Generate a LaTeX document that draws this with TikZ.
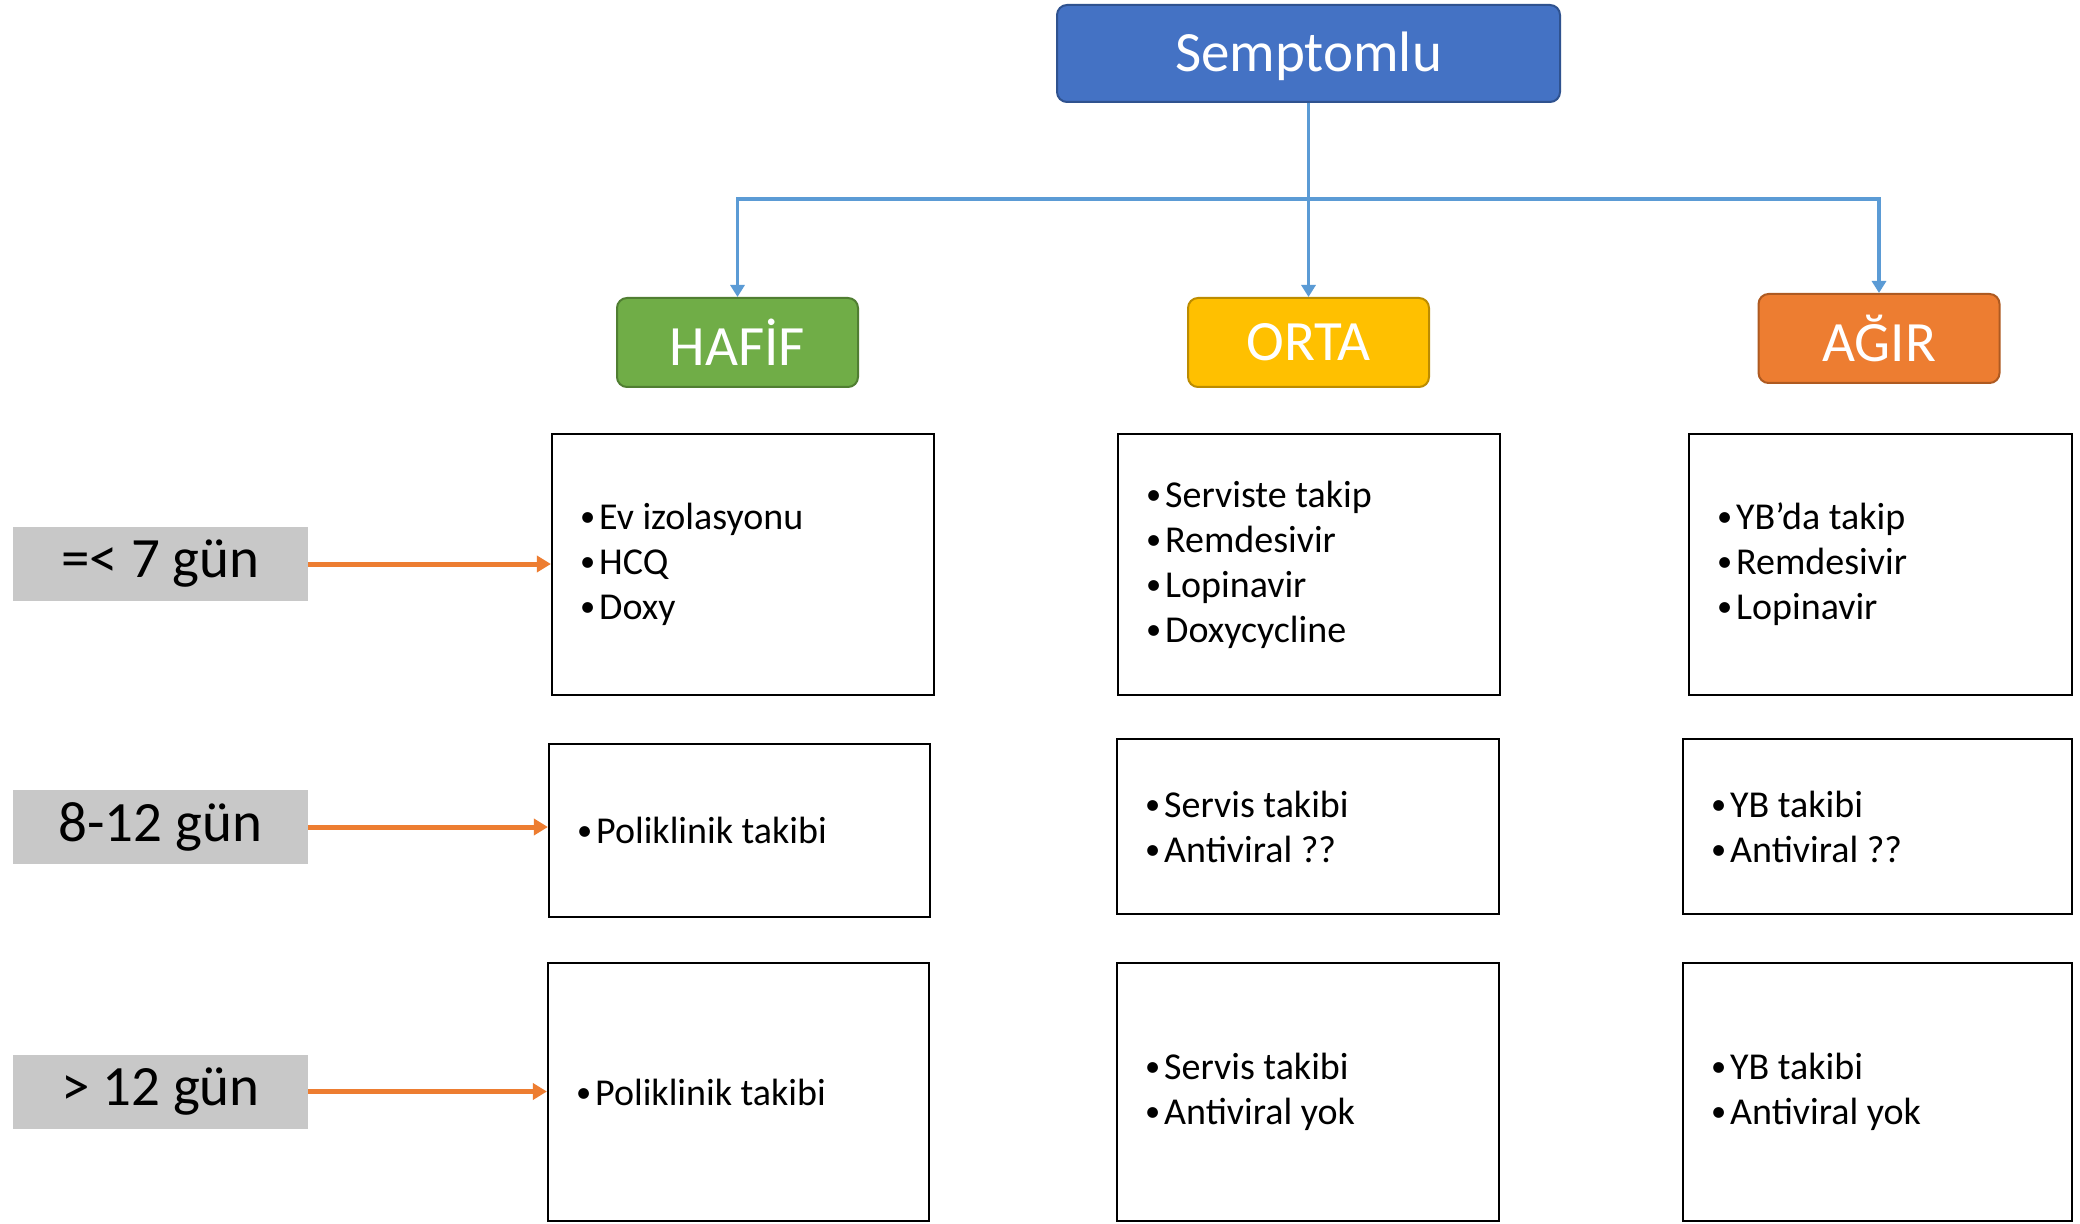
\documentclass[tikz,border=0pt]{standalone}
\usepackage{fontspec}
\setmainfont{Carlito}
\usetikzlibrary{arrows.meta}
\definecolor{sblue}{HTML}{4472C4}
\definecolor{sblueD}{HTML}{2F528F}
\definecolor{sgreen}{HTML}{70AD47}
\definecolor{sgreenD}{HTML}{507E32}
\definecolor{sgold}{HTML}{FFC000}
\definecolor{sgoldD}{HTML}{BC8C00}
\definecolor{sorange}{HTML}{ED7D31}
\definecolor{sorangeD}{HTML}{AE5A21}
\definecolor{lineblue}{HTML}{5B9BD5}
\definecolor{lblgray}{HTML}{C8C8C8}
\newcommand{\bul}{\raisebox{0.08em}{\scalebox{0.8}{\textbullet}}\hspace{2pt}}
\tikzset{
  hdr/.style={rounded corners=5pt, line width=1pt, text=white, font=\fontsize{28.5}{30}\selectfont, inner sep=0pt},
  infobox/.style={draw=black, line width=1.1pt, fill=white, align=flush left, inner xsep=14pt, inner ysep=0pt,
     font=\fontsize{19}{22.5}\selectfont},
  lbl/.style={fill=lblgray, minimum width=147.5pt, minimum height=37pt, inner sep=0pt,
     font=\fontsize{28.5}{30}\selectfont},
  bconn/.style={draw=lineblue, line width=1.8pt},
  btip/.style={bconn, -{Triangle[length=6pt,width=7pt]}},
  oconn/.style={draw=sorange, line width=2.5pt, -{Triangle[length=7pt,width=8pt]}}
}
\begin{document}
\begin{tikzpicture}[x=0.5pt,y=-0.5pt]
\useasboundingbox[fill=white] (0,0) rectangle (2080,1224);
% headers
\node[hdr, draw=sblueD, fill=sblue, minimum width=251.5pt, minimum height=48.5pt] (semp) at (1308.5,53.5) {\raisebox{-2pt}[20pt][6pt]{Semptomlu}};
\node[hdr, draw=sgreenD, fill=sgreen, minimum width=120.5pt, minimum height=44.5pt] (hafif) at (737.5,342.5) {HAFİF};
\node[hdr, draw=sgoldD, fill=sgold, minimum width=120.5pt, minimum height=44.5pt] (orta) at (1308.5,342.5) {ORTA};
\node[hdr, draw=sorangeD, fill=sorange, minimum width=120.5pt, minimum height=44.5pt] (agir) at (1879,338.5) {AĞIR};
% connectors
\coordinate (j) at (1308.5,199);
\draw[btip] (semp.south) -- (orta.north);
\draw[btip] (j) -| (hafif.north);
\draw[btip] (j) -| (agir.north);
% row 1
\node[infobox, text width=163pt, minimum height=130.5pt] (r1c1) at (743,564.5)
  {\bul Ev izolasyonu\\ \bul HCQ\\ \bul Doxy};
\node[infobox, text width=163pt, minimum height=130.5pt] (r1c2) at (1309,564.5)
  {\bul Serviste takip\\ \bul Remdesivir\\ \bul Lopinavir\\ \bul Doxycycline};
\node[infobox, text width=163.5pt, minimum height=130.5pt] (r1c3) at (1880.5,564.5)
  {\bul YB’da takip\\ \bul Remdesivir\\ \bul Lopinavir};
% row 2
\node[infobox, text width=162.5pt, minimum height=86.5pt] (r2c1) at (739.5,830.5)
  {\bul Poliklinik takibi};
\node[infobox, text width=163pt, minimum height=87.5pt] (r2c2) at (1308,826.5)
  {\bul Servis takibi\\ \bul Antiviral ??};
\node[infobox, text width=166.5pt, minimum height=87.5pt] (r2c3) at (1877.5,826.5)
  {\bul YB takibi\\ \bul Antiviral ??};
% row 3
\node[infobox, text width=162.5pt, minimum height=129pt] (r3c1) at (738.5,1092)
  {\bul Poliklinik takibi};
\node[infobox, text width=163pt, minimum height=129pt] (r3c2) at (1308,1092)
  {\bul Servis takibi\\ \bul Antiviral yok};
\node[infobox, text width=166.5pt, minimum height=129pt] (r3c3) at (1877.5,1092)
  {\bul YB takibi\\ \bul Antiviral yok};
% labels
\node[lbl] (l1) at (160.5,564) {=< 7 gün};
\node[lbl] (l2) at (160.5,827) {8-12 gün};
\node[lbl] (l3) at (160.5,1091.5) {> 12 gün};
\draw[oconn] (l1.east) -- (l1.east -| r1c1.west);
\draw[oconn] (l2.east) -- (l2.east -| r2c1.west);
\draw[oconn] (l3.east) -- (l3.east -| r3c1.west);
\end{tikzpicture}
\end{document}
